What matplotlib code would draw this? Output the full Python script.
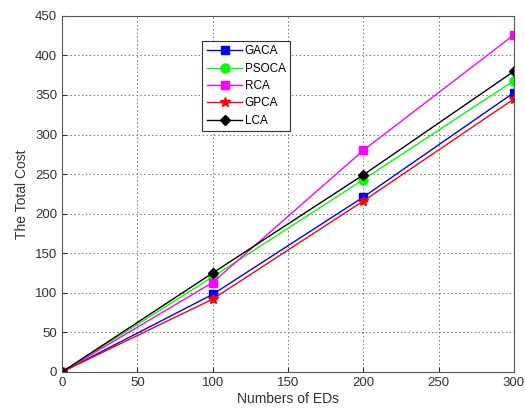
import matplotlib
matplotlib.use("Agg")
import matplotlib.pyplot as plt

plt.rcParams['font.family'] = ['Liberation Sans', 'DejaVu Sans']

x = [0, 100, 200, 300]
gaca = [0, 98, 221, 353]
psoca = [0, 120, 243, 368]
rca = [0, 113, 280, 426]
gpca = [0, 92, 216, 345]
lca = [0, 125, 249, 380]
xticks = [0, 50, 100, 150, 200, 250, 300]
yticks = list(range(0, 451, 50))

fig = plt.figure(figsize=(5.25, 4.17), dpi=100)
ax = fig.add_axes([0.118, 0.108, 0.861, 0.854])

ax.plot(x, gaca, color='#0000ff', marker='s', markersize=5.5, lw=1, label='GACA')
ax.plot(x, psoca, color='#00ff00', marker='o', markersize=6.5, lw=1, label='PSOCA')
ax.plot(x, rca, color='#ff00ff', marker='s', markersize=5.5, lw=1, label='RCA')
ax.plot(x, gpca, color='#ff0000', marker='*', markersize=7.5, lw=1, label='GPCA')
ax.plot(x, lca, color='#000000', marker='D', markersize=5.5, lw=1, label='LCA')

ax.set_xlim(0, 300)
ax.set_ylim(0, 450)
ax.set_xticks(xticks)
ax.set_yticks(yticks)
ax.grid(True, linestyle=(0, (1.5, 2.5)), color='#777777', lw=0.7)
ax.tick_params(direction='in', labelsize=9.5, color='#333333', labelcolor='#333333')
for s in ax.spines.values():
    s.set_color('#555555')
ax.set_xlabel('Numbers of EDs', fontsize=10, color='#333333', labelpad=2)
ax.set_ylabel('The Total Cost', fontsize=10, color='#333333', labelpad=4)

leg = ax.legend(loc='upper left', bbox_to_anchor=(0.31, 0.93), fontsize=8.5,
                fancybox=False, edgecolor='#333333', framealpha=1,
                handlelength=3.0, labelspacing=0.45, borderpad=0.4, handletextpad=0.2,
                borderaxespad=0)
leg.get_frame().set_linewidth(0.8)

fig.savefig('out.png', dpi=100)
